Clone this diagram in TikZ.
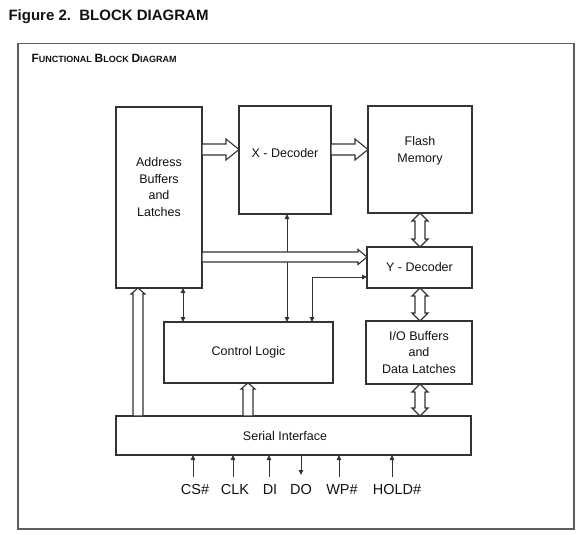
\documentclass[tikz,border=0pt]{standalone}
\usepackage{fontspec}
\setmainfont{Liberation Sans}
\usetikzlibrary{arrows.meta, calc}
\definecolor{boxline}{HTML}{333333}
\definecolor{frameline}{HTML}{5E5E5E}
\definecolor{ink}{HTML}{111111}
\newcommand\fakesc[2]{{\fontsize{12}{14}\selectfont #1}{\fontsize{9}{11}\selectfont #2}}

\begin{document}
\begin{tikzpicture}[x=1pt, y=-1pt, text=ink,
  block/.style={draw=boxline, line width=1.2pt, inner sep=0pt, outer sep=0pt,
    anchor=north west, align=center, font=\fontsize{12.5}{16.5}\selectfont},
  lbl/.style={align=center, font=\fontsize{12.5}{16.5}\selectfont},
  sig/.style={draw=boxline, line width=1pt, >={Triangle[length=5pt, width=4.5pt]}},
  pinlbl/.style={anchor=base, font=\fontsize{14.5}{16}\selectfont},
  bigarrow/.style n args={3}{fill=white, draw=boxline, line width=1.1pt,
    to path={let \p1=(\tikztostart), \p2=(\tikztotarget),
      \n1={atan2(\y2-\y1,\x2-\x1)} in
      ($(\p1)+({\n1+90}:#1)$) -- ($(\p2)+({\n1+180}:#3)+({\n1+90}:#1)$)
      -- ($(\p2)+({\n1+180}:#3)+({\n1+90}:#2)$) -- (\p2)
      -- ($(\p2)+({\n1+180}:#3)+({\n1-90}:#2)$) -- ($(\p2)+({\n1+180}:#3)+({\n1-90}:#1)$)
      -- ($(\p1)+({\n1-90}:#1)$) -- cycle}},
  bigdarrow/.style n args={3}{fill=white, draw=boxline, line width=1.1pt,
    to path={let \p1=(\tikztostart), \p2=(\tikztotarget),
      \n1={atan2(\y2-\y1,\x2-\x1)} in
      (\p1) -- ($(\p1)+({\n1}:#3)+({\n1+90}:#2)$) -- ($(\p1)+({\n1}:#3)+({\n1+90}:#1)$)
      -- ($(\p2)+({\n1+180}:#3)+({\n1+90}:#1)$) -- ($(\p2)+({\n1+180}:#3)+({\n1+90}:#2)$)
      -- (\p2)
      -- ($(\p2)+({\n1+180}:#3)+({\n1-90}:#2)$) -- ($(\p2)+({\n1+180}:#3)+({\n1-90}:#1)$)
      -- ($(\p1)+({\n1}:#3)+({\n1-90}:#1)$) -- ($(\p1)+({\n1}:#3)+({\n1-90}:#2)$) -- cycle}}]

  \useasboundingbox (0,0) rectangle (584,535);

  % heading and frame
  \node[anchor=base west, font=\fontsize{15}{18}\selectfont\bfseries] (title) at (5,20.7) {Figure 2.\ \ BLOCK DIAGRAM};
  \node[draw=frameline, line width=1.5pt, minimum width=556pt, minimum height=485pt,
    inner sep=0pt, anchor=north west] (frame) at (17,43) {};
  \node[anchor=base west, font=\bfseries] (subtitle) at (28,63)
    {\fakesc{F}{UNCTIONAL} \fakesc{B}{LOCK} \fakesc{D}{IAGRAM}};

  % blocks
  \node[block, minimum width=86pt, minimum height=181pt] (addr) at (116,107) {};
  \node[lbl] (addrtext) at (159,187) {Address\\Buffers\\and\\Latches};
  \node[block, minimum width=92pt, minimum height=108pt] (xdec) at (239,106) {};
  \node[lbl] (xdectext) at (285,153) {X - Decoder};
  \node[block, minimum width=104pt, minimum height=107pt] (flash) at (368,106) {};
  \node[lbl] (flashtext) at (420,151) {Flash\\Memory};
  \node[block, minimum width=105pt, minimum height=41pt] (ydec) at (367,247) {Y - Decoder};
  \node[block, minimum width=169pt, minimum height=61pt] (ctrl) at (164,322) {Control Logic};
  \node[block, minimum width=106pt, minimum height=63pt] (iobuf) at (366,321) {I/O Buffers\\and\\Data Latches};
  \node[block, minimum width=355pt, minimum height=39pt] (serial) at (116,416) {};
  \node[lbl] (serialtext) at (285,436) {Serial Interface};

  % control lines
  \draw[sig, <->] (addr.south -| 183,0) -- (ctrl.north -| 183,0);
  \draw[sig, <->] (ctrl.north -| 287,0) -- (xdec.south -| 287,0);
  \draw[sig, <->] (ctrl.north -| 312,0) |- (ydec.west |- 0,277);

  % buses
  \draw[bigarrow={5.5pt}{10.5pt}{13pt}] (addr.east |- 0,149.5) to (xdec.west |- 0,149.5);
  \draw[bigarrow={5.5pt}{10.5pt}{13pt}] (xdec.east |- 0,149.5) to (flash.west |- 0,149.5);
  \draw[bigarrow={5pt}{7.5pt}{9pt}] (addr.east |- 0,257) to (ydec.west |- 0,257);
  \draw[bigarrow={5pt}{7pt}{6pt}] (serial.north -| 138,0) to (addr.south -| 138,0);
  \draw[bigarrow={5pt}{7pt}{6pt}] (serial.north -| 248,0) to (ctrl.south -| 248,0);
  \draw[bigdarrow={5pt}{8pt}{8pt}] (flash.south -| 420,0) to (ydec.north -| 420,0);
  \draw[bigdarrow={5pt}{8pt}{8pt}] (ydec.south -| 420,0) to (iobuf.north -| 420,0);
  \draw[bigdarrow={5pt}{8pt}{8pt}] (iobuf.south -| 420,0) to (serial.north -| 420,0);

  % pins
  \coordinate (pcs) at (193,477);
  \coordinate (pclk) at (233,477);
  \coordinate (pdi) at (269,477);
  \coordinate (pdo) at (301,475);
  \coordinate (pwp) at (339,477);
  \coordinate (phold) at (392,477);
  \draw[sig, ->] (pcs) -- (serial.south -| pcs);
  \draw[sig, ->] (pclk) -- (serial.south -| pclk);
  \draw[sig, ->] (pdi) -- (serial.south -| pdi);
  \draw[sig, ->] (serial.south -| pdo) -- (pdo);
  \draw[sig, ->] (pwp) -- (serial.south -| pwp);
  \draw[sig, ->] (phold) -- (serial.south -| phold);
  \node[pinlbl] (cs) at (195,494) {CS\#};
  \node[pinlbl] (clk) at (235,494) {CLK};
  \node[pinlbl] (di) at (270,494) {DI};
  \node[pinlbl] (do) at (301,494) {DO};
  \node[pinlbl] (wp) at (342,494) {WP\#};
  \node[pinlbl] (hold) at (397,494) {HOLD\#};
\end{tikzpicture}
\end{document}
